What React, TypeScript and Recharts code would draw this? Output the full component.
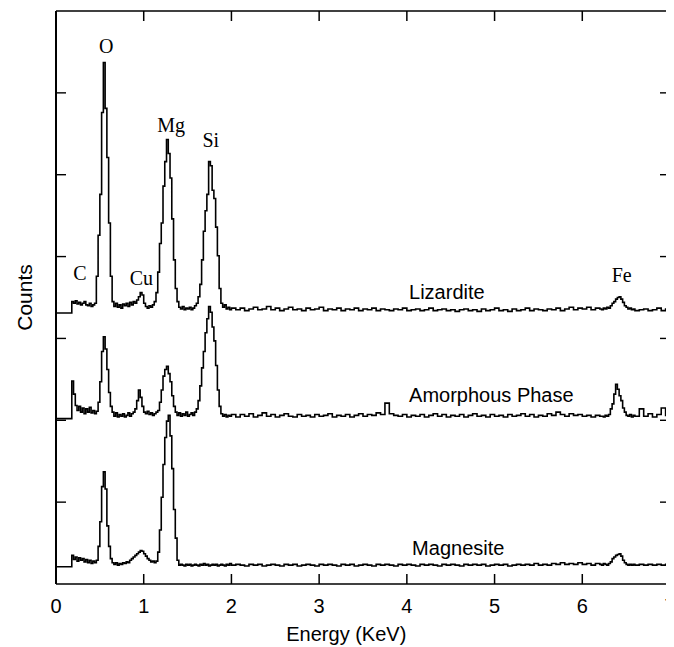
import { LineChart, Line, XAxis, YAxis, ReferenceDot, ReferenceLine } from "recharts";

// energy channels (keV)
const ENERGY = [
  0, 0.02, 0.04, 0.06, 0.08, 0.1, 0.12, 0.14, 0.16, 0.18,
  0.2, 0.22, 0.24, 0.26, 0.28, 0.3, 0.32, 0.34, 0.36, 0.38,
  0.4, 0.42, 0.44, 0.46, 0.48, 0.5, 0.52, 0.54, 0.56, 0.58,
  0.6, 0.62, 0.64, 0.66, 0.68, 0.7, 0.72, 0.74, 0.76, 0.78,
  0.8, 0.82, 0.84, 0.86, 0.88, 0.9, 0.92, 0.94, 0.96, 0.98,
  1.0, 1.02, 1.04, 1.06, 1.08, 1.1, 1.12, 1.14, 1.16, 1.18,
  1.2, 1.22, 1.24, 1.26, 1.28, 1.3, 1.32, 1.34, 1.36, 1.38,
  1.4, 1.42, 1.44, 1.46, 1.48, 1.5, 1.52, 1.54, 1.56, 1.58,
  1.6, 1.62, 1.64, 1.66, 1.68, 1.7, 1.72, 1.74, 1.76, 1.78,
  1.8, 1.82, 1.84, 1.86, 1.88, 1.9, 1.92, 1.94, 1.96, 1.98,
  2.0,
  2.05, 2.1, 2.15, 2.2, 2.25, 2.3, 2.35, 2.4, 2.45, 2.5,
  2.55, 2.6, 2.65, 2.7, 2.75, 2.8, 2.85, 2.9, 2.95, 3.0,
  3.05, 3.1, 3.15, 3.2, 3.25, 3.3, 3.35, 3.4, 3.45, 3.5,
  3.55, 3.6, 3.65, 3.7, 3.75, 3.8, 3.85, 3.9, 3.95, 4.0,
  4.05, 4.1, 4.15, 4.2, 4.25, 4.3, 4.35, 4.4, 4.45, 4.5,
  4.55, 4.6, 4.65, 4.7, 4.75, 4.8, 4.85, 4.9, 4.95, 5.0,
  5.05, 5.1, 5.15, 5.2, 5.25, 5.3, 5.35, 5.4, 5.45, 5.5,
  5.55, 5.6, 5.65, 5.7, 5.75, 5.8, 5.85, 5.9, 5.95, 6.0,
  6.05, 6.1, 6.15, 6.2,
  6.22, 6.24, 6.26, 6.28, 6.3, 6.32, 6.34, 6.36, 6.38, 6.4,
  6.42, 6.44, 6.46, 6.48, 6.5, 6.52, 6.54, 6.56, 6.58, 6.6,
  6.65, 6.7, 6.75, 6.8, 6.85, 6.9, 6.95, 7.0,
];

// counts, relative to each spectrum's own baseline
const LIZARDITE = [
  0, 0, 0, 0, 0, 0, 0, 0, 0, 0.14,
  0.12, 0.15, 0.11, 0.13, 0.1, 0.12, 0.14, 0.1, 0.09, 0.12,
  0.08, 0.1, 0.12, 0.45, 0.95, 1.45, 2.45, 3.06, 2.5, 1.9,
  1.1, 0.45, 0.14, 0.08, 0.12, 0.07, 0.1, 0.06, 0.11, 0.09,
  0.12, 0.08, 0.13, 0.1, 0.14, 0.12, 0.16, 0.2, 0.25, 0.22,
  0.12, 0.08, 0.06, 0.09, 0.07, 0.1, 0.14, 0.25, 0.5, 0.85,
  1.1, 1.55, 1.85, 2.12, 1.95, 1.65, 1.15, 0.65, 0.3, 0.14,
  0.07, 0.05, 0.08, 0.04, 0.06, 0.05, 0.07, 0.04, 0.06, 0.09,
  0.12, 0.2, 0.35, 0.65, 1.0, 1.25, 1.45, 1.85, 1.8, 1.5,
  1.4, 1.05, 0.7, 0.3, 0.12, 0.07, 0.1, 0.05, 0.07, 0.04,
  0.06,
  0.04, 0.06, 0.03, 0.05, 0.07, 0.04, 0.05, 0.08, 0.04, 0.06,
  0.03, 0.05, 0.07, 0.04, 0.05, 0.03, 0.06, 0.04, 0.05, 0.07,
  0.03, 0.05, 0.04, 0.06, 0.03, 0.05, 0.04, 0.06, 0.03, 0.05,
  0.04, 0.06, 0.03, 0.05, 0.04, 0.03, 0.05, 0.04, 0.06, 0.03,
  0.04, 0.05, 0.03, 0.04, 0.06, 0.03, 0.04, 0.05, 0.03, 0.04,
  0.02, 0.04, 0.05, 0.03, 0.04, 0.02, 0.05, 0.03, 0.04, 0.06,
  0.03, 0.04, 0.02, 0.05, 0.03, 0.04, 0.06, 0.03, 0.05, 0.04,
  0.03, 0.05, 0.04, 0.06, 0.03, 0.05, 0.07, 0.04, 0.06, 0.05,
  0.07, 0.04, 0.06, 0.05,
  0.04, 0.06, 0.05, 0.07, 0.06, 0.09, 0.12, 0.14, 0.17, 0.19,
  0.2, 0.17, 0.13, 0.09, 0.07, 0.05, 0.06, 0.04, 0.05, 0.03,
  0.04, 0.05, 0.03, 0.04, 0.06, 0.03, 0.05, 0.04,
];

const AMORPHOUS = [
  0, 0, 0, 0, 0, 0, 0, 0, 0, 0.46,
  0.3, 0.16, 0.1, 0.15, 0.08, 0.13, 0.06, 0.12, 0.08, 0.14,
  0.07, 0.1, 0.06, 0.09, 0.2, 0.45, 0.82, 1.0, 0.85, 0.6,
  0.32, 0.15, 0.08, 0.03, 0.07, 0.02, 0.05, 0.03, 0.06, 0.02,
  0.04, 0.07, 0.03, 0.06, 0.08, 0.12, 0.22, 0.35, 0.26, 0.15,
  0.08, 0.06, 0.09, 0.05, 0.07, 0.04, 0.06, 0.08, 0.1, 0.2,
  0.35, 0.52, 0.6, 0.64, 0.55, 0.45, 0.28, 0.15, 0.08, 0.04,
  0.07, 0.03, 0.06, 0.04, 0.08, 0.03, 0.05, 0.07, 0.04, 0.08,
  0.12, 0.22, 0.4, 0.62, 0.82, 1.05, 1.22, 1.37, 1.3, 1.12,
  0.95, 0.65, 0.35, 0.15, 0.06, 0.03, 0.05, 0.02, 0.04, 0.03,
  0.05,
  0.02, 0.05, 0.03, 0.06, 0.02, 0.04, 0.07, 0.03, 0.05, 0.02,
  0.04, 0.06, 0.03, 0.02, 0.05, 0.03, 0.04, 0.02, 0.05, 0.03,
  0.04, 0.06, 0.02, 0.04, 0.03, 0.05, 0.02, 0.04, 0.06, 0.03,
  0.05, 0.04, 0.07, 0.05, 0.19, 0.06, 0.04, 0.03, 0.05, 0.02,
  0.04, 0.03, 0.05, 0.02, 0.04, 0.06, 0.03, 0.05, 0.02, 0.04,
  0.03, 0.05, 0.02, 0.04, 0.06, 0.03, 0.04, 0.02, 0.05, 0.03,
  0.04, 0.02, 0.05, 0.03, 0.04, 0.06, 0.03, 0.05, 0.02, 0.04,
  0.03, 0.06, 0.04, 0.08, 0.05, 0.03, 0.06, 0.04, 0.05, 0.03,
  0.04, 0.02, 0.04, 0.03,
  0.03, 0.02, 0.04, 0.03, 0.05, 0.12, 0.18, 0.3, 0.42, 0.36,
  0.28, 0.22, 0.13, 0.08, 0.04, 0.03, 0.05, 0.02, 0.04, 0.03,
  0.12, 0.03, 0.06, 0.02, 0.05, 0.13, 0.04, 0.08,
];

const MAGNESITE = [
  0, 0, 0, 0, 0, 0, 0, 0, 0, 0.14,
  0.09, 0.12, 0.07, 0.11, 0.08, 0.1, 0.06, 0.09, 0.05, 0.08,
  0.04, 0.07, 0.05, 0.08, 0.25, 0.55, 0.98, 1.16, 0.95, 0.5,
  0.25, 0.1, 0.05, 0.03, 0.05, 0.02, 0.04, 0.03, 0.05, 0.04,
  0.06, 0.05, 0.08, 0.1, 0.12, 0.14, 0.16, 0.18, 0.2, 0.19,
  0.16, 0.13, 0.1, 0.08, 0.06, 0.07, 0.05, 0.07, 0.18, 0.45,
  0.85, 1.25, 1.58, 1.78, 1.85, 1.6, 1.2, 0.7, 0.35, 0.08,
  0.02, 0.03, 0.02, 0.01, 0.03, 0.02, 0.03, 0.01, 0.02, 0.03,
  0.02, 0.01, 0.03, 0.02, 0.04, 0.02, 0.03, 0.01, 0.02, 0.03,
  0.02, 0.03, 0.01, 0.02, 0.03, 0.02, 0.01, 0.03, 0.02, 0.04,
  0.02,
  0.03, 0.02, 0.01, 0.03, 0.02, 0.03, 0.01, 0.02, 0.03, 0.02,
  0.01, 0.03, 0.02, 0.03, 0.01, 0.02, 0.03, 0.02, 0.01, 0.03,
  0.02, 0.03, 0.02, 0.01, 0.03, 0.02, 0.03, 0.01, 0.02, 0.03,
  0.02, 0.01, 0.03, 0.02, 0.03, 0.02, 0.01, 0.03, 0.02, 0.03,
  0.02, 0.01, 0.03, 0.02, 0.03, 0.02, 0.01, 0.03, 0.02, 0.03,
  0.02, 0.01, 0.03, 0.02, 0.03, 0.02, 0.03, 0.01, 0.02, 0.03,
  0.02, 0.03, 0.01, 0.02, 0.03, 0.02, 0.03, 0.02, 0.04, 0.02,
  0.03, 0.02, 0.04, 0.03, 0.05, 0.03, 0.04, 0.03, 0.05, 0.03,
  0.04, 0.02, 0.04, 0.03,
  0.02, 0.04, 0.03, 0.02, 0.04, 0.06, 0.1, 0.12, 0.14, 0.15,
  0.16, 0.13, 0.08, 0.05, 0.03, 0.02, 0.03, 0.02, 0.03, 0.02,
  0.03, 0.02, 0.03, 0.02, 0.03, 0.02, 0.03, 0.02,
];

const X_TICKS = [0, 1, 2, 3, 4, 5, 6, 7];
const Y_TICKS = [1, 2, 3, 4, 5, 6];
const Y_MAX = 7;

// stacking offsets of the three spectra (axis units)
const OFFSET_LIZ = 3.31;
const OFFSET_AMO = 2.02;
const OFFSET_MAG = 0.21;

const PEAK_LABELS = [
  { text: "O", e: 0.574, y: 6.483 },
  { text: "Mg", e: 1.313, y: 5.525 },
  { text: "Si", e: 1.765, y: 5.342 },
  { text: "C", e: 0.274, y: 3.714 },
  { text: "Cu", e: 0.973, y: 3.652 },
  { text: "Fe", e: 6.45, y: 3.693 },
];

const SAMPLE_LABELS = [
  { text: "Lizardite", e: 4.025, y: 3.482 },
  { text: "Amorphous Phase", e: 4.025, y: 2.227 },
  { text: "Magnesite", e: 4.06, y: 0.354 },
];

const SANS = "'Liberation Sans', Arial, Helvetica, sans-serif";
const SERIF = "'Liberation Serif', 'Times New Roman', serif";
const INK = "#000";
const TICK_LEN = 10;

const WIDTH = 666;
const HEIGHT = 639;
const MARGIN = { top: 2, right: 3, bottom: 62, left: 47 };
// plot height between the top and bottom frame lines (each axis is 1px tall)
const PLOT_H = HEIGHT - MARGIN.top - MARGIN.bottom - 2;
// inward x tick length, in y-axis units
const X_TICK_UNITS = (TICK_LEN * Y_MAX) / PLOT_H;

const BottomLabel = ({ x, y, payload }: any) => (
  <text x={x} y={y + 28.7} textAnchor="middle" fontFamily={SANS} fontSize={20} fill={INK}>
    {payload.value}
  </text>
);
const LeftTick = ({ x, y }: any) => (
  <line x1={x} y1={y} x2={x + TICK_LEN} y2={y} stroke={INK} strokeWidth={1.4} />
);
const RightTick = ({ x, y }: any) => (
  <line x1={x} y1={y} x2={x - TICK_LEN} y2={y} stroke={INK} strokeWidth={1.4} />
);

const textAt = (text: string, font: string, anchor: string) => (props: any) => {
  const vb = props.viewBox || {};
  return (
    <text x={vb.x} y={vb.y} textAnchor={anchor} fontFamily={font} fontSize={20} fill={INK}>
      {text}
    </text>
  );
};

const countsLabel = (props: any) => {
  const vb = props.viewBox;
  const x = vb.x - 23.3;
  const y = vb.y + vb.height / 2;
  return (
    <text x={x} y={y} transform={`rotate(-90, ${x}, ${y})`} textAnchor="middle" fontFamily={SANS} fontSize={21} fill={INK}>
      Counts
    </text>
  );
};

const energyLabel = (props: any) => {
  const vb = props.viewBox;
  return (
    <text x={vb.x + vb.width / 2 - 16.7} y={vb.y + 56.7} textAnchor="middle" fontFamily={SANS} fontSize={20} fill={INK}>
      Energy (KeV)
    </text>
  );
};

export default function App() {
  const rows = ENERGY.map((e, i) => ({
    e,
    liz: LIZARDITE[i] + OFFSET_LIZ,
    amo: AMORPHOUS[i] + OFFSET_AMO,
    mag: MAGNESITE[i] + OFFSET_MAG,
  }));

  const axisLine = { stroke: INK, strokeWidth: 1.3 };

  return (
    <LineChart width={WIDTH} height={HEIGHT} data={rows} margin={MARGIN}>
      <XAxis
        dataKey="e"
        type="number"
        domain={[0, 7]}
        ticks={X_TICKS}
        interval={0}
        allowDataOverflow
        height={1}
        tickSize={0}
        tickMargin={0}
        tickLine={false}
        axisLine={axisLine}
        tick={<BottomLabel />}
        label={energyLabel}
      />
      {/* top frame line only */}
      <XAxis
        xAxisId="top"
        orientation="top"
        type="number"
        domain={[0, 7]}
        allowDataOverflow
        height={1}
        tickLine={false}
        tick={false}
        axisLine={axisLine}
      />
      <YAxis
        type="number"
        domain={[0, Y_MAX]}
        ticks={Y_TICKS}
        interval={0}
        allowDataOverflow
        width={1}
        tickSize={0}
        tickMargin={0}
        tickLine={false}
        axisLine={{ stroke: INK, strokeWidth: 2 }}
        tick={<LeftTick />}
        label={countsLabel}
      />
      <YAxis
        yAxisId="right"
        orientation="right"
        type="number"
        domain={[0, Y_MAX]}
        ticks={Y_TICKS}
        interval={0}
        allowDataOverflow
        width={1}
        tickSize={0}
        tickMargin={0}
        tickLine={false}
        axisLine={axisLine}
        tick={<RightTick />}
      />
      {/* inward x ticks on the bottom and top frame */}
      {X_TICKS.map((k) => (
        <ReferenceLine key={`b${k}`} segment={[{ x: k, y: 0 }, { x: k, y: X_TICK_UNITS }]} stroke={INK} strokeWidth={1.5} ifOverflow="visible" />
      ))}
      {X_TICKS.map((k) => (
        <ReferenceLine key={`t${k}`} segment={[{ x: k, y: Y_MAX }, { x: k, y: Y_MAX - X_TICK_UNITS }]} stroke={INK} strokeWidth={1.5} ifOverflow="visible" />
      ))}
      <Line dataKey="liz" type="stepAfter" stroke={INK} strokeWidth={1.6} dot={false} isAnimationActive={false} />
      <Line dataKey="amo" type="stepAfter" stroke={INK} strokeWidth={1.6} dot={false} isAnimationActive={false} />
      <Line dataKey="mag" type="stepAfter" stroke={INK} strokeWidth={1.6} dot={false} isAnimationActive={false} />
      {PEAK_LABELS.map((p) => (
        <ReferenceDot key={p.text} x={p.e} y={p.y} r={0} fill="none" stroke="none" label={textAt(p.text, SERIF, "middle")} />
      ))}
      {SAMPLE_LABELS.map((p) => (
        <ReferenceDot key={p.text} x={p.e} y={p.y} r={0} fill="none" stroke="none" label={textAt(p.text, SANS, "start")} />
      ))}
    </LineChart>
  );
}
